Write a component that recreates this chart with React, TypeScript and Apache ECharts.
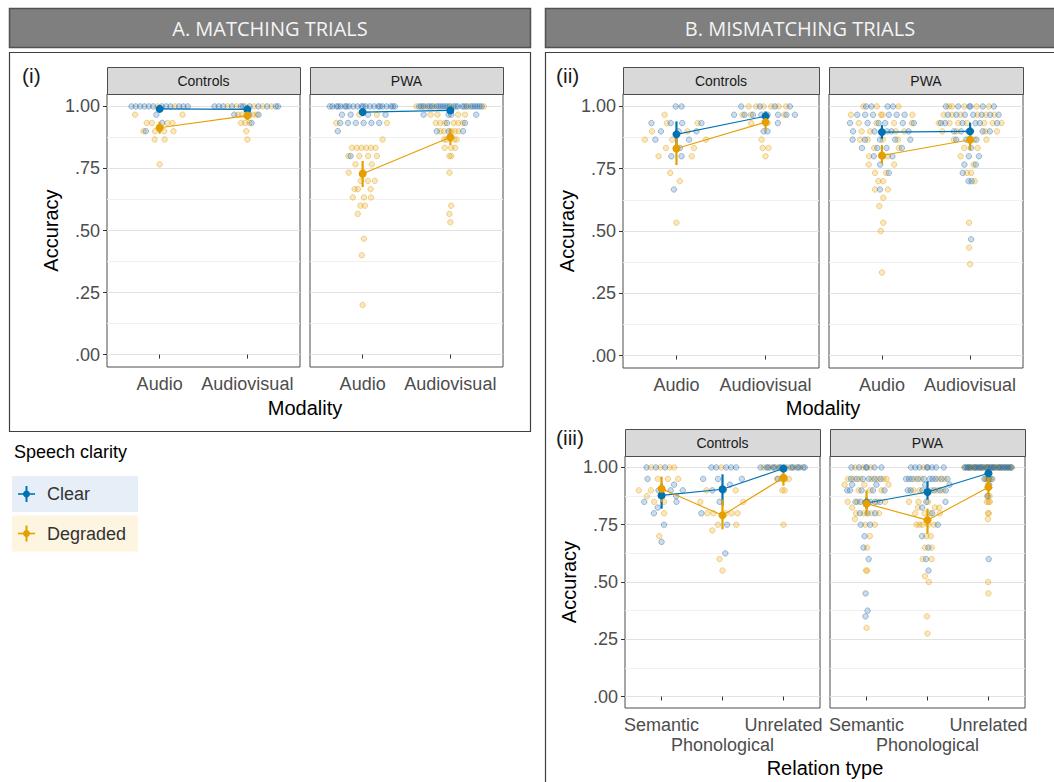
import React, { useEffect, useRef } from 'react';
import * as echarts from 'echarts';

// ---------------- DATA ----------------
const modality = ['Audio', 'Audiovisual'];
const relation = ['Semantic', 'Phonological', 'Unrelated'];
const yTicks = [0, 0.25, 0.5, 0.75, 1];
const yGridValues = [0, 0.125, 0.25, 0.375, 0.5, 0.625, 0.75, 0.875, 1];

// Participant accuracies as [trials correct, number of participants]
// A. Matching trials (30 trials)
const aCtrlAudioClear = [[30, 12], [29, 1], [28, 1], [27, 1]];
const aCtrlAudioDeg = [[30, 2], [29, 2], [28, 4], [27, 4], [26, 2], [23, 1]];
const aCtrlAvClear = [[30, 11], [29, 3], [28, 1]];
const aCtrlAvDeg = [[30, 6], [29, 4], [28, 3], [27, 1], [26, 1]];
const aPwaAudioClear = [[30, 22], [29, 4], [28, 6], [27, 1], [24, 1]];
const aPwaAudioDeg = [[29, 2], [28, 2], [26, 1], [25, 6], [24, 4], [23, 2], [22, 2], [21, 3], [20, 3], [19, 3], [18, 2], [17, 1], [14, 1], [12, 1], [6, 1]];
const aPwaAvClear = [[30, 25], [29, 4], [28, 2], [27, 3]];
const aPwaAvDeg = [[30, 6], [29, 4], [28, 6], [27, 5], [26, 4], [25, 3], [24, 2], [22, 1], [18, 1], [17, 1], [16, 1]];

// B(ii). Mismatching trials by modality (30 trials)
const bCtrlAudioClear = [[30, 2], [28, 4], [27, 3], [26, 2], [25, 1], [24, 2], [20, 1]];
const bCtrlAudioDeg = [[29, 1], [28, 2], [27, 2], [26, 3], [25, 2], [24, 2], [22, 1], [21, 1], [16, 1]];
const bCtrlAvClear = [[30, 4], [29, 8], [28, 1], [27, 2]];
const bCtrlAvDeg = [[30, 6], [29, 3], [28, 2], [26, 1], [25, 2], [24, 1]];
const bPwaAudioClear = [[30, 4], [29, 6], [28, 6], [27, 5], [26, 5], [25, 4], [24, 3], [23, 1], [22, 1], [20, 1]];
const bPwaAudioDeg = [[30, 3], [29, 4], [28, 4], [27, 4], [26, 4], [25, 2], [24, 2], [23, 2], [22, 2], [21, 2], [20, 2], [19, 1], [18, 1], [16, 1], [15, 1], [10, 1]];
const bPwaAvClear = [[30, 6], [29, 7], [28, 6], [27, 5], [26, 3], [25, 1], [24, 2], [23, 2], [22, 1], [21, 2], [14, 1]];
const bPwaAvDeg = [[30, 5], [29, 6], [28, 7], [27, 5], [26, 3], [25, 2], [24, 1], [23, 1], [22, 2], [21, 1], [16, 1], [13, 1], [11, 1]];

// B(iii). Mismatching trials by relation type (40 trials)
const cCtrlSemClear = [[40, 3], [38, 1], [37, 1], [36, 3], [35, 1], [34, 2], [33, 1], [32, 1], [30, 1], [27, 1]];
const cCtrlSemDeg = [[40, 4], [38, 3], [36, 3], [35, 1], [34, 2], [32, 1], [28, 1]];
const cCtrlPhonClear = [[40, 5], [38, 3], [37, 1], [36, 2], [34, 1], [32, 1], [30, 1], [25, 1]];
const cCtrlPhonDeg = [[40, 1], [36, 2], [34, 2], [32, 5], [30, 2], [29, 1], [24, 1], [22, 1]];
const cCtrlUnrClear = [[40, 14], [38, 1]];
const cCtrlUnrDeg = [[40, 7], [38, 5], [36, 2], [30, 1]];
const cPwaSemClear = [[40, 6], [38, 6], [37, 2], [36, 5], [34, 5], [32, 3], [30, 2], [28, 1], [26, 1], [24, 1], [18, 1], [15, 1], [14, 1]];
const cPwaSemDeg = [[40, 3], [38, 7], [37, 3], [36, 3], [34, 6], [33, 1], [32, 4], [31, 1], [30, 2], [28, 1], [26, 1], [22, 2], [12, 1]];
const cPwaPhonClear = [[40, 8], [38, 10], [37, 2], [36, 6], [34, 2], [33, 1], [32, 1], [30, 1], [28, 1], [26, 1], [24, 1], [22, 1]];
const cPwaPhonDeg = [[40, 1], [38, 4], [36, 5], [34, 3], [33, 3], [32, 4], [30, 5], [28, 2], [26, 2], [24, 2], [21, 1], [20, 1], [14, 1], [11, 1]];
const cPwaUnrClear = [[40, 29], [38, 3], [37, 1], [35, 1], [24, 1]];
const cPwaUnrDeg = [[40, 19], [38, 5], [37, 1], [35, 2], [34, 3], [32, 2], [31, 1], [20, 1], [18, 1]];

// Condition means and 95% CIs [low, high]
const aCtrlMeanClear = [0.99, 0.988];
const aCtrlCiClear = [[0.982, 0.997], [0.98, 0.995]];
const aCtrlMeanDeg = [0.914, 0.963];
const aCtrlCiDeg = [[0.89, 0.938], [0.945, 0.98]];
const aPwaMeanClear = [0.977, 0.984];
const aPwaCiClear = [[0.965, 0.988], [0.975, 0.992]];
const aPwaMeanDeg = [0.729, 0.876];
const aPwaCiDeg = [[0.675, 0.78], [0.845, 0.91]];

const bCtrlMeanClear = [0.888, 0.961];
const bCtrlCiClear = [[0.84, 0.94], [0.94, 0.98]];
const bCtrlMeanDeg = [0.831, 0.937];
const bCtrlCiDeg = [[0.765, 0.88], [0.905, 0.965]];
const bPwaMeanClear = [0.897, 0.9];
const bPwaCiClear = [[0.87, 0.925], [0.875, 0.935]];
const bPwaMeanDeg = [0.803, 0.866];
const bPwaCiDeg = [[0.77, 0.845], [0.825, 0.9]];

const cCtrlMeanClear = [0.878, 0.905, 0.995];
const cCtrlCiClear = [[0.82, 0.93], [0.835, 0.97], [0.985, 1.0]];
const cCtrlMeanDeg = [0.907, 0.791, 0.955];
const cCtrlCiDeg = [[0.85, 0.96], [0.73, 0.86], [0.92, 0.985]];
const cPwaMeanClear = [0.845, 0.893, 0.975];
const cPwaCiClear = [[0.82, 0.87], [0.86, 0.94], [0.96, 0.99]];
const cPwaMeanDeg = [0.842, 0.77, 0.914];
const cPwaCiDeg = [[0.79, 0.9], [0.71, 0.82], [0.87, 0.955]];

// ---------------- HELPERS ----------------
const BLUE = '#0072B2';
const ORANGE = '#E69F00';
const FONT = '"Liberation Sans", Arial, Helvetica, sans-serif';

function expand(table: number[][], den: number): number[] {
  const out: number[] = [];
  table.forEach(([k, n]) => {
    for (let i = 0; i < n; i++) out.push(k / den);
  });
  return out;
}

function vanDerCorput(n: number): number[] {
  const out: number[] = [];
  for (let i = 1; i <= n; i++) {
    let x = i, f = 0.5, r = 0;
    while (x > 0) {
      r += f * (x % 2);
      x = Math.floor(x / 2);
      f /= 2;
    }
    out.push(r);
  }
  return out;
}

function quantile(sorted: number[], p: number): number {
  const h = (sorted.length - 1) * p;
  const lo = Math.floor(h);
  const hi = Math.min(lo + 1, sorted.length - 1);
  return sorted[lo] + (h - lo) * (sorted[hi] - sorted[lo]);
}

// quasirandom offsets (as in ggbeeswarm / vipor)
function quasiOffsets(values: number[], width = 0.4, adjust = 1): number[] {
  const n = values.length;
  if (n < 2) return values.map(() => 0);
  const sorted = [...values].sort((a, b) => a - b);
  const mean = values.reduce((s, v) => s + v, 0) / n;
  const sd = Math.sqrt(values.reduce((s, v) => s + (v - mean) * (v - mean), 0) / (n - 1));
  const iqr = quantile(sorted, 0.75) - quantile(sorted, 0.25);
  let lo = Math.min(sd, iqr / 1.34);
  if (!lo) lo = sd || Math.abs(values[0]) || 1;
  const bw = 0.9 * lo * Math.pow(n, -0.2) * adjust;
  const dens = (y: number) => values.reduce((s, v) => s + Math.exp(-0.5 * ((y - v) / bw) ** 2), 0);
  let maxD = 0;
  const a = sorted[0] - 3 * bw, b = sorted[n - 1] + 3 * bw;
  for (let k = 0; k <= 512; k++) maxD = Math.max(maxD, dens(a + ((b - a) * k) / 512));
  values.forEach((v) => (maxD = Math.max(maxD, dens(v))));
  const order = values.map((_, i) => i).sort((p, q) => values[p] - values[q] || p - q);
  const rank: number[] = new Array(n);
  order.forEach((idx, r) => (rank[idx] = r));
  const vdc = vanDerCorput(n);
  return values.map((v, i) => (vdc[rank[i]] - 0.5) * 2 * width * (dens(v) / maxD));
}

const fmtY = (v: number) => (v === 1 ? '1.00' : v === 0 ? '.00' : '.' + String(Math.round(v * 100)).padStart(2, '0'));

// ---------------- FACETS ----------------
const facets = [
  { cats: modality, den: 30, clear: [aCtrlAudioClear, aCtrlAvClear], deg: [aCtrlAudioDeg, aCtrlAvDeg], mC: aCtrlMeanClear, ciC: aCtrlCiClear, mD: aCtrlMeanDeg, ciD: aCtrlCiDeg, strip: 'Controls' },
  { cats: modality, den: 30, clear: [aPwaAudioClear, aPwaAvClear], deg: [aPwaAudioDeg, aPwaAvDeg], mC: aPwaMeanClear, ciC: aPwaCiClear, mD: aPwaMeanDeg, ciD: aPwaCiDeg, strip: 'PWA' },
  { cats: modality, den: 30, clear: [bCtrlAudioClear, bCtrlAvClear], deg: [bCtrlAudioDeg, bCtrlAvDeg], mC: bCtrlMeanClear, ciC: bCtrlCiClear, mD: bCtrlMeanDeg, ciD: bCtrlCiDeg, strip: 'Controls' },
  { cats: modality, den: 30, clear: [bPwaAudioClear, bPwaAvClear], deg: [bPwaAudioDeg, bPwaAvDeg], mC: bPwaMeanClear, ciC: bPwaCiClear, mD: bPwaMeanDeg, ciD: bPwaCiDeg, strip: 'PWA' },
  { cats: relation, den: 40, clear: [cCtrlSemClear, cCtrlPhonClear, cCtrlUnrClear], deg: [cCtrlSemDeg, cCtrlPhonDeg, cCtrlUnrDeg], mC: cCtrlMeanClear, ciC: cCtrlCiClear, mD: cCtrlMeanDeg, ciD: cCtrlCiDeg, strip: 'Controls' },
  { cats: relation, den: 40, clear: [cPwaSemClear, cPwaPhonClear, cPwaUnrClear], deg: [cPwaSemDeg, cPwaPhonDeg, cPwaUnrDeg], mC: cPwaMeanClear, ciC: cPwaCiClear, mD: cPwaMeanDeg, ciD: cPwaCiDeg, strip: 'PWA' },
];

const layout = [
  { left: 107, top: 94, width: 193, height: 273, yLab: true, nameGap: 46, dodge: false },
  { left: 310, top: 94, width: 193, height: 273, yLab: false, nameGap: 0, dodge: false },
  { left: 623, top: 94, width: 196, height: 274, yLab: true, nameGap: 46, dodge: false },
  { left: 829, top: 94, width: 194, height: 274, yLab: false, nameGap: 0, dodge: false },
  { left: 625, top: 456, width: 195, height: 252, yLab: true, nameGap: 46, dodge: true },
  { left: 830, top: 456, width: 195, height: 252, yLab: false, nameGap: 0, dodge: true },
];

function buildOption() {
  const grid: any[] = [];
  const xAxis: any[] = [];
  const yAxis: any[] = [];
  const series: any[] = [];
  const graphic: any[] = [];

  facets.forEach((f, i) => {
    const L = layout[i];
    const catVals = f.cats.map((_, j) => j + 1);
    const rowOne = L.dodge ? catVals.filter((_, j) => j % 2 === 0) : catVals;
    const rowTwo = L.dodge ? catVals.filter((_, j) => j % 2 === 1) : [];
    const catLabel = (v: number) => f.cats[Math.round(v) - 1] || '';

    grid.push({ left: L.left, top: L.top, width: L.width, height: L.height, show: true, borderColor: '#4d4d4d', borderWidth: 1, backgroundColor: '#ffffff', containLabel: false, outerBoundsMode: 'none' });

    const xMain = xAxis.length;
    xAxis.push({
      type: 'value', gridIndex: i, position: 'bottom', min: 0.4, max: f.cats.length + 0.6,
      axisLine: { show: false }, splitLine: { show: false },
      axisTick: { show: true, customValues: catVals, length: 4, lineStyle: { color: '#333333' } },
      axisLabel: { show: true, customValues: rowOne, margin: 8, fontSize: 18, color: '#4d4d4d', fontFamily: FONT, hideOverlap: false, formatter: catLabel },
    });
    if (rowTwo.length) {
      xAxis.push({
        type: 'value', gridIndex: i, position: 'bottom', min: 0.4, max: f.cats.length + 0.6,
        axisLine: { show: false }, splitLine: { show: false },
        axisTick: { show: false, customValues: rowTwo },
        axisLabel: { show: true, customValues: rowTwo, margin: 28, fontSize: 18, color: '#4d4d4d', fontFamily: FONT, hideOverlap: false, formatter: catLabel },
      });
    }

    const yMain = yAxis.length;
    yAxis.push({
      type: 'value', gridIndex: i, position: 'left', min: -0.05, max: 1.05,
      axisLine: { show: false },
      axisTick: { show: false, customValues: yGridValues },
      axisLabel: { show: false, customValues: yGridValues },
      splitLine: { show: true, lineStyle: { color: ['#e2e2e2', '#f0f0f0'], width: 1 } },
    });
    yAxis.push({
      type: 'value', gridIndex: i, position: 'left', min: -0.05, max: 1.05,
      axisLine: { show: false }, splitLine: { show: false },
      axisTick: { show: L.yLab, customValues: yTicks, length: 4, lineStyle: { color: '#333333' } },
      axisLabel: { show: L.yLab, customValues: yTicks, margin: 7, fontSize: 18, color: '#4d4d4d', fontFamily: FONT, formatter: fmtY },
      name: L.yLab ? 'Accuracy' : '', nameLocation: 'middle', nameGap: L.nameGap,
      nameTextStyle: { fontSize: 20, color: '#000000', fontFamily: FONT },
    });

    const clearPts: number[][] = [];
    const degPts: number[][] = [];
    f.cats.forEach((_, j) => {
      const cv = expand(f.clear[j], f.den);
      const dv = expand(f.deg[j], f.den);
      const all = [...cv, ...dv];
      const offs = quasiOffsets(all);
      all.forEach((v, k) => {
        const p = [j + 1 + offs[k], v];
        if (k < cv.length) clearPts.push(p);
        else degPts.push(p);
      });
    });

    series.push({
      type: 'scatter', xAxisIndex: xMain, yAxisIndex: yMain, data: degPts, symbolSize: 5.5, silent: true, z: 2,
      itemStyle: { color: 'rgba(230,159,0,0.32)', borderColor: 'rgba(220,150,0,0.6)', borderWidth: 0.8 },
    });
    series.push({
      type: 'scatter', xAxisIndex: xMain, yAxisIndex: yMain, data: clearPts, symbolSize: 5.5, silent: true, z: 2,
      itemStyle: { color: 'rgba(40,110,170,0.3)', borderColor: 'rgba(30,100,160,0.6)', borderWidth: 0.8 },
    });

    const errSeries = (ci: number[][], color: string) => ({
      type: 'custom', xAxisIndex: xMain, yAxisIndex: yMain, silent: true, z: 4, clip: false,
      data: ci.map((c, j) => [j + 1, c[0], c[1]]),
      renderItem: (_p: any, api: any) => {
        const x = api.value(0);
        const a = api.coord([x, api.value(1)]);
        const b = api.coord([x, api.value(2)]);
        return { type: 'line', shape: { x1: a[0], y1: a[1], x2: b[0], y2: b[1] }, style: { stroke: color, lineWidth: 2.2 } };
      },
    });
    const meanSeries = (m: number[], color: string) => ({
      type: 'line', xAxisIndex: xMain, yAxisIndex: yMain, silent: true, z: 5,
      data: m.map((v, j) => [j + 1, v]),
      symbol: 'circle', symbolSize: 8, showSymbol: true,
      lineStyle: { color, width: 1.1 }, itemStyle: { color },
    });
    series.push(errSeries(f.ciC, BLUE));
    series.push(errSeries(f.ciD, ORANGE));
    series.push(meanSeries(f.mC, BLUE));
    series.push(meanSeries(f.mD, ORANGE));

    // facet strip
    graphic.push({
      type: 'rect', shape: { x: L.left + 0.5, y: L.top - 27 + 0.5, width: L.width, height: 27 },
      style: { fill: '#d9d9d9', stroke: '#4d4d4d', lineWidth: 1 }, z: 10,
    });
    graphic.push({
      type: 'text', x: L.left + L.width / 2, y: L.top - 13.5, z: 11,
      style: { text: f.strip, fontSize: 14, fontFamily: FONT, fill: '#1a1a1a', align: 'center', verticalAlign: 'middle' },
    });
  });

  // headers & panel boxes
  graphic.push({ type: 'rect', shape: { x: 9.5, y: 8.5, width: 521, height: 39 }, style: { fill: '#7f7f7f', stroke: '#525252', lineWidth: 1.5 }, z: 10 });
  graphic.push({ type: 'rect', shape: { x: 545.5, y: 8.5, width: 520, height: 39 }, style: { fill: '#7f7f7f', stroke: '#525252', lineWidth: 1.5 }, z: 10 });
  graphic.push({ type: 'text', x: 270, y: 28, z: 11, style: { text: 'A. MATCHING TRIALS', fontSize: 20, fontFamily: '"Open Sans", sans-serif', fill: '#f4f4f4', align: 'center', verticalAlign: 'middle' } });
  graphic.push({ type: 'text', x: 800, y: 28, z: 11, style: { text: 'B. MISMATCHING TRIALS', fontSize: 20, fontFamily: '"Open Sans", sans-serif', fill: '#f4f4f4', align: 'center', verticalAlign: 'middle' } });
  graphic.push({ type: 'rect', shape: { x: 9.5, y: 52.5, width: 521, height: 379 }, style: { fill: 'none', stroke: '#404040', lineWidth: 1.2 }, z: 1 });
  graphic.push({ type: 'rect', shape: { x: 545.5, y: 52.5, width: 520, height: 740 }, style: { fill: 'none', stroke: '#404040', lineWidth: 1.2 }, z: 1 });

  // panel tags
  const tag = (t: string, x: number, y: number) => ({ type: 'text', x, y, z: 11, style: { text: t, fontSize: 21, fontFamily: FONT, fill: '#1a1a1a', align: 'left', verticalAlign: 'middle' } });
  graphic.push(tag('(i)', 22, 75));
  graphic.push(tag('(ii)', 556, 75));
  graphic.push(tag('(iii)', 556, 437));

  // shared axis titles
  const title = (t: string, x: number, y: number) => ({ type: 'text', x, y, z: 11, style: { text: t, fontSize: 20, fontFamily: FONT, fill: '#000000', align: 'center', verticalAlign: 'middle' } });
  graphic.push(title('Modality', 305, 408));
  graphic.push(title('Modality', 823, 408));
  graphic.push(title('Relation type', 825, 768));

  // legend
  graphic.push({ type: 'text', x: 14, y: 452, z: 11, style: { text: 'Speech clarity', fontSize: 18, fontFamily: FONT, fill: '#000000', align: 'left', verticalAlign: 'middle' } });
  const key = (label: string, y: number, color: string, bg: string) => [
    { type: 'rect', shape: { x: 12, y: y - 18, width: 126, height: 36 }, style: { fill: bg }, z: 10 },
    { type: 'line', shape: { x1: 18, y1: y, x2: 35, y2: y }, style: { stroke: color, lineWidth: 1.6 }, z: 11 },
    { type: 'line', shape: { x1: 26.5, y1: y - 8, x2: 26.5, y2: y + 8 }, style: { stroke: color, lineWidth: 2 }, z: 11 },
    { type: 'circle', shape: { cx: 26.5, cy: y, r: 3.5 }, style: { fill: color }, z: 12 },
    { type: 'text', x: 47, y, z: 12, style: { text: label, fontSize: 18, fontFamily: FONT, fill: '#333333', align: 'left', verticalAlign: 'middle' } },
  ];
  graphic.push(...key('Clear', 494, BLUE, '#e6eff8'));
  graphic.push(...key('Degraded', 533.5, ORANGE, '#fdf5e0'));

  return { animation: false, backgroundColor: '#ffffff', grid, xAxis, yAxis, series, graphic };
}

export default function App() {
  const ref = useRef<HTMLDivElement>(null);
  useEffect(() => {
    document.body.style.margin = '0';
    if (!ref.current) return;
    const chart = echarts.init(ref.current, undefined, { renderer: 'svg' });
    chart.setOption(buildOption() as any);
    return () => chart.dispose();
  }, []);
  return <div ref={ref} style={{ width: 1054, height: 782 }} />;
}
